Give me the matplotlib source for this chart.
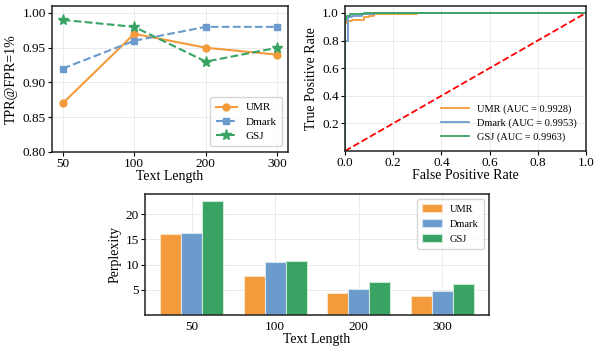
import matplotlib
matplotlib.use("Agg")
import matplotlib.pyplot as plt
import numpy as np

plt.rcParams['font.family'] = ['Liberation Serif', 'DejaVu Serif']
plt.rcParams['xtick.direction'] = 'out'
plt.rcParams['ytick.direction'] = 'out'

# data
lengths = ['50', '100', '200', '300']
methods = ['UMR', 'Dmark', 'GSJ']
colors = ['#F39B3A', '#6B9BCC', '#38A363']

tpr_umr = [0.87, 0.97, 0.95, 0.94]
tpr_dmark = [0.92, 0.96, 0.98, 0.98]
tpr_gsj = [0.99, 0.98, 0.93, 0.95]

ppl_umr = [16.0, 7.8, 4.4, 3.7]
ppl_dmark = [16.2, 10.5, 5.1, 4.7]
ppl_gsj = [22.6, 10.7, 6.5, 6.2]

# ROC points (step curves)
roc_umr_fpr = [0.0, 0.0, 0.01, 0.01, 0.03, 0.03, 0.08, 0.08, 0.10, 0.10, 0.12, 0.12, 0.30, 0.30, 1.0]
roc_umr_tpr = [0.0, 0.93, 0.93, 0.94, 0.94, 0.95, 0.95, 0.97, 0.97, 0.98, 0.98, 0.99, 0.99, 1.0, 1.0]
roc_dmark_fpr = [0.0, 0.0, 0.012, 0.012, 0.03, 0.03, 0.07, 0.07, 0.12, 0.12, 1.0]
roc_dmark_tpr = [0.0, 0.80, 0.80, 0.97, 0.97, 0.98, 0.98, 0.99, 0.99, 1.0, 1.0]
roc_gsj_fpr = [0.0, 0.0, 0.005, 0.005, 0.02, 0.02, 0.08, 0.08, 1.0]
roc_gsj_tpr = [0.0, 0.95, 0.95, 0.98, 0.98, 0.99, 0.99, 1.0, 1.0]
auc = ['0.9928', '0.9953', '0.9963']

W, H = 596, 347
fig = plt.figure(figsize=(W / 100, H / 100), dpi=100)

def box(l, t, r, b):
    return [l / W, 1 - b / H, (r - l) / W, (b - t) / H]

def style(ax):
    ax.grid(True, color='#e8e8e8', linewidth=0.6)
    ax.set_axisbelow(True)
    for s in ax.spines.values():
        s.set_linewidth(1.1)
        s.set_color('#222222')
    ax.tick_params(labelsize=9.5, length=3, width=0.8, pad=1.5)

# line plot
ax1 = fig.add_axes(box(52, 6, 288, 152))
x = np.arange(len(lengths))
ax1.plot(x, tpr_umr, '-o', color=colors[0], lw=1.5, ms=5, label='UMR')
ax1.plot(x, tpr_dmark, '--s', color=colors[1], lw=1.5, ms=5, label='Dmark')
ax1.plot(x, tpr_gsj, '--*', color=colors[2], lw=1.5, ms=8, label='GSJ')
ax1.set_xticks(x)
ax1.set_xticklabels(lengths)
ax1.set_xlim(-0.15, 3.15)
ax1.set_ylim(0.80, 1.01)
ax1.set_yticks([0.80, 0.85, 0.90, 0.95, 1.00])
ax1.set_xlabel('Text Length', fontsize=10, labelpad=0)
ax1.set_ylabel('TPR@FPR=1%', fontsize=10, labelpad=3)
style(ax1)
ax1.legend(loc='lower right', fontsize=8, frameon=True, edgecolor='#cccccc',
           fancybox=True, handlelength=1.9, borderpad=0.5, labelspacing=0.4)

# ROC plot
ax2 = fig.add_axes(box(345, 6, 586, 151))
roc = [(roc_umr_fpr, roc_umr_tpr), (roc_dmark_fpr, roc_dmark_tpr), (roc_gsj_fpr, roc_gsj_tpr)]
for i, (f, t) in enumerate(roc):
    ax2.plot(f, t, color=colors[i], lw=1.3, label='%s (AUC = %s)' % (methods[i], auc[i]))
ax2.plot([0, 1], [0, 1], '--', color='red', lw=1.3)
ax2.set_xlim(0, 1)
ax2.set_ylim(0, 1.05)
ax2.set_xticks([0, 0.2, 0.4, 0.6, 0.8, 1.0])
ax2.set_yticks([0.2, 0.4, 0.6, 0.8, 1.0])
ax2.set_xlabel('False Positive Rate', fontsize=10, labelpad=0)
ax2.set_ylabel('True Positive Rate', fontsize=10, labelpad=3)
style(ax2)
ax2.legend(loc='lower right', fontsize=7.5, frameon=False, handlelength=2.6,
           labelspacing=0.4)

# bar plot
ax3 = fig.add_axes(box(145, 194, 489, 315))
w = 0.25
ax3.bar(x - w, ppl_umr, w, color=colors[0], edgecolor='#fbe3c8', linewidth=0.8, label='UMR')
ax3.bar(x, ppl_dmark, w, color=colors[1], edgecolor='#d8e5f2', linewidth=0.8, label='Dmark')
ax3.bar(x + w, ppl_gsj, w, color=colors[2], edgecolor='#c9e9d4', linewidth=0.8, label='GSJ')
ax3.set_xticks(x)
ax3.set_xticklabels(lengths)
ax3.set_xlim(-0.56, 3.56)
ax3.set_ylim(0, 24)
ax3.set_yticks([5, 10, 15, 20])
ax3.set_xlabel('Text Length', fontsize=10, labelpad=0)
ax3.set_ylabel('Perplexity', fontsize=10, labelpad=3)
style(ax3)
ax3.tick_params(axis='x', length=0, pad=4)
ax3.legend(loc='upper right', fontsize=7.5, frameon=True, edgecolor='#cccccc',
           handlelength=1.9, handleheight=0.8, borderpad=0.5, labelspacing=0.5)

fig.savefig('out.png', dpi=100)
